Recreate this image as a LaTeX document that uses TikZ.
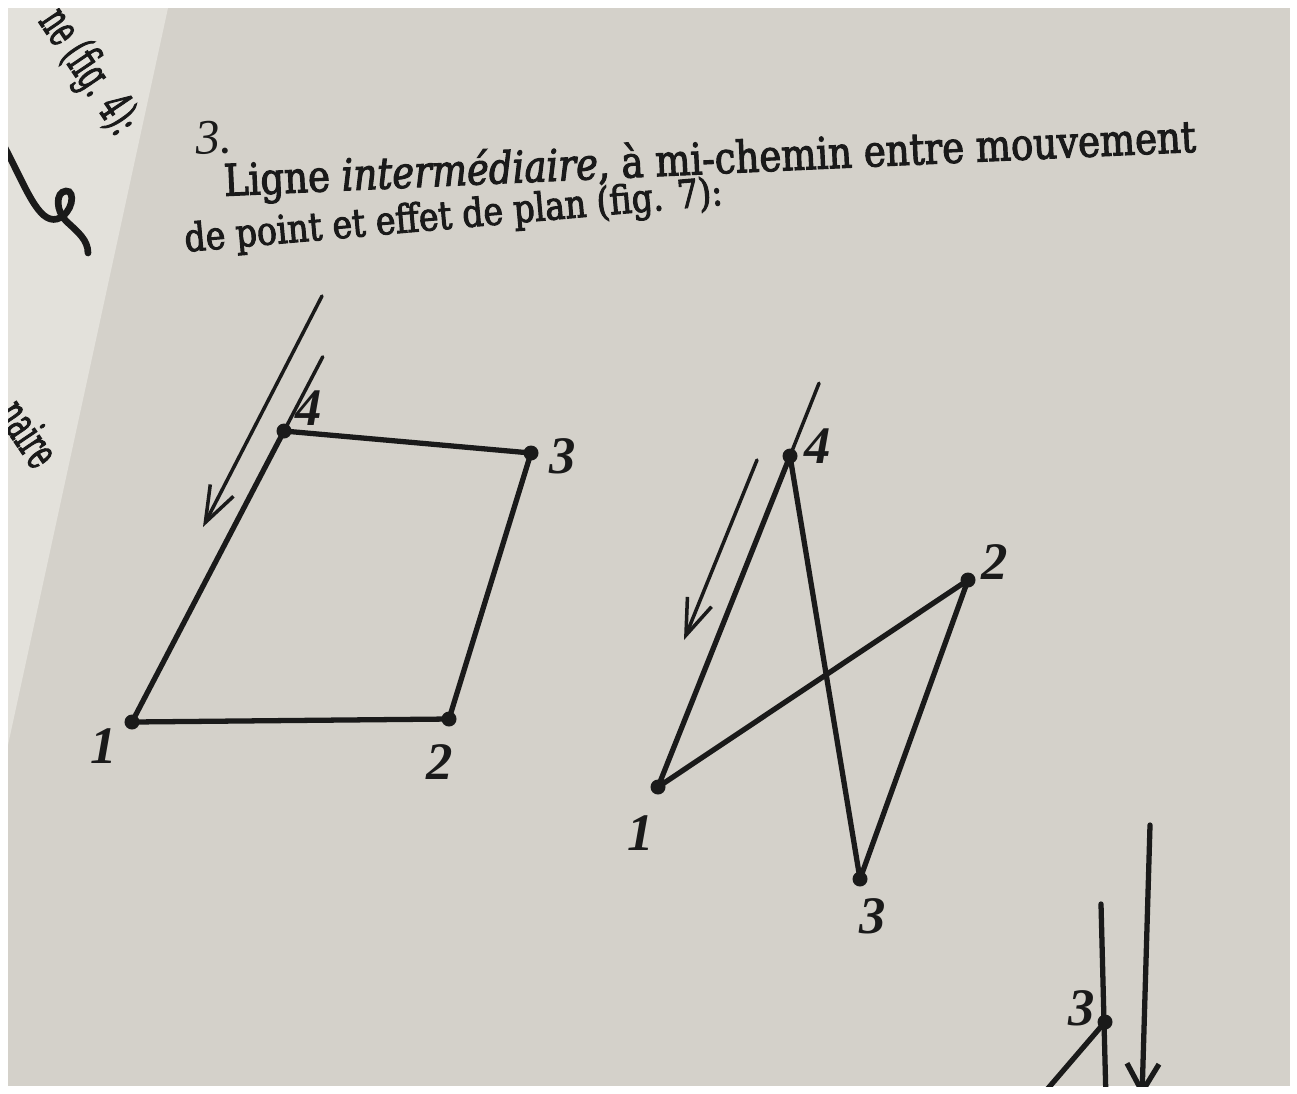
\documentclass[tikz,border=0pt]{standalone}
\usepackage{fontspec}
\setmainfont{DejaVu Serif}[FakeStretch=0.85, FakeBold=2.5]
\newfontfamily\digitfont{Liberation Serif}
\usetikzlibrary{arrows.meta, calc}
\definecolor{cpage}{HTML}{D4D1CA}
\definecolor{cleaf}{HTML}{E3E1DB}
\definecolor{cink}{HTML}{1A1A1A}
\tikzset{
  every picture/.style={line width=1.5pt},
  dot/.style={circle, fill=cink, inner sep=0pt, minimum size=0.15cm},
  lbl/.style={font=\digitfont\bfseries\itshape\fontsize{15}{15}\selectfont, text=cink, inner sep=0pt},
  side/.style={draw=cink, line width=1.5pt, line cap=round, line join=round},
  fine/.style={draw=cink, line width=1pt, line cap=round},
  arrow/.style={fine, -{Straight Barb[length=3.6mm, width=2.6mm, line width=1pt]}},
  prose/.style={font=\fontsize{#1}{#1}\selectfont, text=cink, inner sep=0pt},
  prose/.default=12.4,
}

\begin{document}
\begin{tikzpicture}[x=0.01cm, y=-0.01cm]
  \useasboundingbox (0,0) rectangle (1297,1093);
  \fill[white] (0,0) rectangle (1297,1093);
  \begin{scope}
    \clip (8,8) rectangle (1290,1086);
    \fill[cpage] (8,8) rectangle (1290,1086);
    \fill[cleaf] (8,8) -- (168,8) -- (8,745) -- cycle;
    \begin{scope}
      \clip (8,8) -- (168,8) -- (8,745) -- cycle;
      \node[prose=13.5, rotate=-56, xscale=0.65, anchor=east] (leaftop) at (128,132) {ne (fig. 4):};
      \node[prose=13.5, rotate=-56, xscale=0.65, anchor=east] (leafbot) at (49,463) {naire};
      \draw[cink, line width=1.9pt, line cap=round] (4,146) .. controls (25,185) and (38,224) .. (57,219)
        .. controls (73,214) and (76,190) .. (66,191) .. controls (55,192) and (56,211) .. (66,221)
        .. controls (78,232) and (88,240) .. (88,253);
    \end{scope}
    \node[prose=14, rotate=3] (num) at (214,138) {\digitfont\itshape 3.};
    \node[prose, rotate=2.6, anchor=base west] (line1) at (222,196) {Ligne \textit{intermédiaire}, à mi-chemin entre mouvement};
    \node[prose=11.1, rotate=5, anchor=base west] (line2) at (183,252) {de point et effet de plan (fig. 7):};

    \foreach \n/\x/\y/\lx/\ly in {1/132/722/104/746, 2/449/719/440/762, 3/531/453/563/456, 4/284/431/309/408} {
      \node[dot] (a\n) at (\x,\y) {};
      \node[lbl] (la\n) at (\lx,\ly) {\n};
    }
    \coordinate (a4up) at ($(a1)!1.255!(a4)$);
    \coordinate (atail) at (322,296);
    \coordinate (ahead) at (203,527);
    \draw[side] (a1.center) -- (a2.center) -- (a3.center) -- (a4.center) -- (a1.center);
    \draw[fine] (a4.center) -- (a4up);
    \draw[arrow] (atail) -- (ahead);

    \foreach \n/\x/\y/\lx/\ly in {1/658/787/641/833, 2/968/580/995/562, 3/860/879/873/916, 4/790/456/818/446} {
      \node[dot] (b\n) at (\x,\y) {};
      \node[lbl] (lb\n) at (\lx,\ly) {\n};
    }
    \coordinate (b4up) at ($(b1)!1.22!(b4)$);
    \coordinate (btail) at (757,460);
    \coordinate (bhead) at (684,640);
    \draw[side] (b1.center) -- (b2.center) -- (b3.center) -- (b4.center) -- (b1.center);
    \draw[fine] (b4.center) -- (b4up);
    \draw[arrow] (btail) -- (bhead);

    \node[dot] (c3) at (1105,1022) {};
    \node[lbl] (lc3) at (1082,1008) {3};
    \coordinate (c3up) at (1101,904);
    \coordinate (c3down) at (1106,1100);
    \coordinate (c3low) at (1038,1100);
    \coordinate (ctail) at (1150,825);
    \coordinate (chead) at (1142,1097);
    \draw[side] (c3up) -- (c3down);
    \draw[side] (c3.center) -- (c3low);
    \draw[side, -{Straight Barb[length=2.8mm, width=3.2mm]}] (ctail) -- (chead);
  \end{scope}
\end{tikzpicture}
\end{document}
